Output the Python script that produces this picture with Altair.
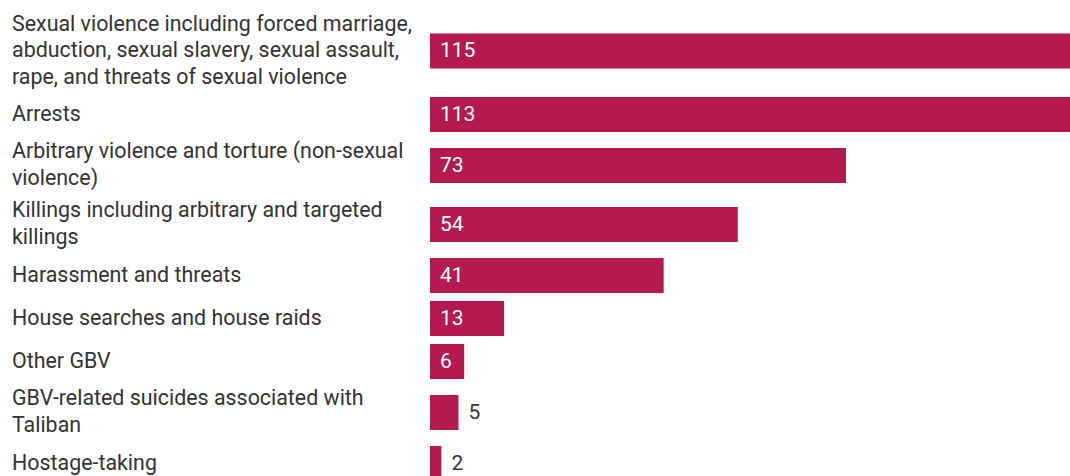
import altair as alt
import pandas as pd

categories = [
    "Sexual violence including forced marriage,\nabduction, sexual slavery, sexual assault,\nrape, and threats of sexual violence",
    "Arrests",
    "Arbitrary violence and torture (non-sexual\nviolence)",
    "Killings including arbitrary and targeted\nkillings",
    "Harassment and threats",
    "House searches and house raids",
    "Other GBV",
    "GBV-related suicides associated with\nTaliban",
    "Hostage-taking",
]
values = [115, 113, 73, 54, 41, 13, 6, 5, 2]

BAR_COLOR = "#b41a4f"
TEXT_COLOR = "#333333"
FONT = "Roboto"
FS = 21
FS_LABEL = 21.4
LH = 26.5
X_MAX = 112.3  # visible part of the axis (longest bars run off the right edge)

df = pd.DataFrame({"idx": range(len(categories)), "label": categories, "value": values})

rows = []
for i, lab in enumerate(categories):
    nlines = lab.count("\n") + 1
    h = max(35, round(25.5 * nlines))
    base = alt.Chart(df).transform_filter(alt.datum.idx == i).transform_calculate(
        inside="datum.value >= 6",
        pos="datum.value >= 6 ? 0 : datum.value",
    )
    xs = alt.Scale(domain=[0, X_MAX], nice=False, zero=True)
    ys = alt.Y("label:N", axis=None)
    bar = base.mark_bar(size=35, color=BAR_COLOR, clip=True).encode(
        x=alt.X("value:Q", scale=xs, axis=None),
        y=ys,
    )
    val = base.mark_text(align="left", baseline="middle", dx=10, font=FONT, fontSize=FS).encode(
        x=alt.X("pos:Q", scale=xs, axis=None),
        y=ys,
        text=alt.Text("value:Q"),
        color=alt.condition("datum.inside", alt.value("white"), alt.value(TEXT_COLOR)),
    )
    lbl = base.mark_text(
        align="left", baseline="middle", lineBreak="\n", lineHeight=LH,
        font=FONT, fontSize=FS_LABEL, color=TEXT_COLOR,
        dy=-(nlines - 1) * LH / 2,
    ).encode(
        x=alt.value(-418),
        y=ys,
        text="label:N",
    )
    rows.append(alt.layer(bar, val, lbl).properties(width=640, height=h))

chart = alt.vconcat(*rows, spacing=8).properties(
    padding={"left": 12, "top": 13, "right": 0, "bottom": 0},
    background="white",
).configure_view(stroke=None)

chart.save("out.html", embed_options={"renderer": "svg", "actions": False})
